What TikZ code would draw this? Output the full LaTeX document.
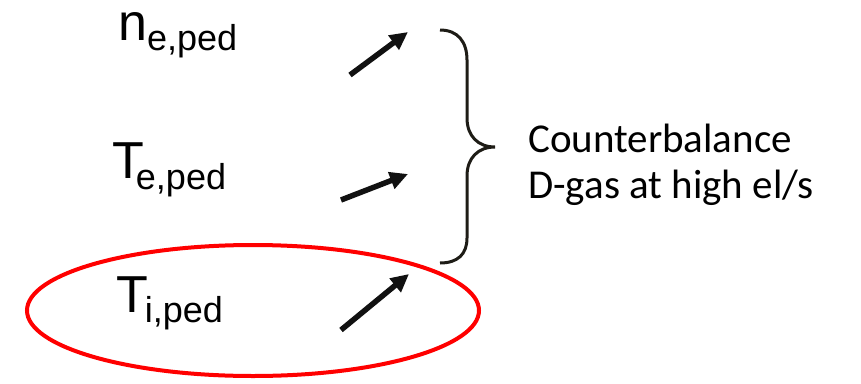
\documentclass[tikz,border=0pt]{standalone}
\usepackage{fontspec}
\setmainfont{Liberation Sans}
\newfontfamily\bodyfont{Carlito}
\usetikzlibrary{arrows.meta,shapes.geometric}
\definecolor{bracecol}{RGB}{30,28,22}
\definecolor{arrowcol}{RGB}{17,17,17}
\tikzset{
  qty/.style={anchor=base west, inner sep=0pt, font=\fontsize{52}{60}\selectfont},
  trend/.style={arrowcol, line width=5.5pt, -{Triangle[length=18pt,width=17pt]}},
  note/.style={anchor=base west, inner sep=0pt, font=\bodyfont\fontsize{41}{48}\selectfont},
}
\newcommand{\subtxt}[1]{{\fontsize{36}{40}\selectfont #1}}
\begin{document}
\begin{tikzpicture}[x=1pt,y=-1pt]
  \useasboundingbox (0,0) rectangle (861,383);

  % pedestal quantities
  \node[qty] (ne) at (118,40) {n\raisebox{-10pt}{\subtxt{e,ped}}};
  \node[qty] (te) at (112,178) {T\kern-8pt\raisebox{-11pt}{\subtxt{e,ped}}};
  \node[qty] (ti) at (116,312) {T\kern-3pt\raisebox{-10pt}{\subtxt{i,ped}}};

  % upward trends
  \coordinate (a1s) at (350,75);  \coordinate (a1e) at (408,32);
  \coordinate (a2s) at (341,200); \coordinate (a2e) at (408,174);
  \coordinate (a3s) at (341,330); \coordinate (a3e) at (409,274);
  \draw[trend] (a1s) -- (a1e);
  \draw[trend] (a2s) -- (a2e);
  \draw[trend] (a3s) -- (a3e);

  % grouping brace
  \draw[bracecol, line width=3pt]
    (440,30) .. controls (458,30) and (467,42) .. (467,60)
    -- (467,118)
    .. controls (467,136) and (478,147) .. (495,147)
    .. controls (478,147) and (467,158) .. (467,176)
    -- (467,238)
    .. controls (467,254) and (458,263) .. (440,263);

  \node[note] (c1) at (528,152) {Counterbalance};
  \node[note] (c2) at (528,198) {D-gas at high el/s};

  % highlight on the ion temperature
  \node[draw=red, line width=4pt, ellipse, minimum width=452pt, minimum height=131pt, inner sep=0pt] (hl) at (253,310.5) {};
\end{tikzpicture}
\end{document}
